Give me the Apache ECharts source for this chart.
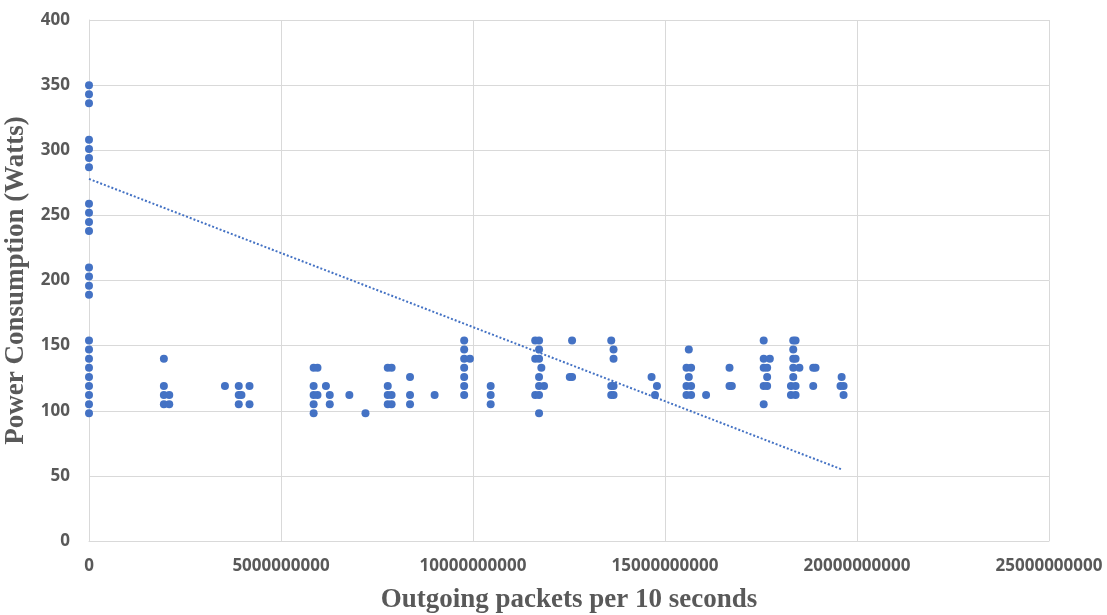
<!DOCTYPE html>
<html>
<head>
<meta charset="utf-8">
<title>Power vs outgoing packets</title>
<script src="https://cdn.jsdelivr.net/npm/echarts@6/dist/echarts.min.js"></script>
<style>
  html, body {margin: 0; padding: 0; background: #fff;}
  #chart {width: 1107px; height: 615px;}
</style>
</head>
<body>
<div id="chart"></div>
<script>
// readings: outgoing packets per 10 s and the power drawn at that point
const packets = [
  0, 0, 0, 0, 0, 0, 0, 0, 0, 0, 0, 0, 0, 0, 0, 0, 0, 0, 0, 0, 0, 0, 0, 0,
  1.95e9, 1.95e9, 1.95e9, 1.95e9, 2.09e9, 2.09e9,
  3.54e9, 3.90e9, 3.90e9, 3.90e9, 3.97e9, 4.18e9, 4.18e9,
  5.85e9, 5.85e9, 5.85e9, 5.85e9, 5.85e9, 5.95e9, 5.95e9,
  6.17e9, 6.27e9, 6.27e9, 6.78e9, 7.20e9,
  7.78e9, 7.78e9, 7.78e9, 7.78e9, 7.88e9, 7.88e9, 7.88e9,
  8.36e9, 8.36e9, 8.36e9, 9.00e9,
  9.77e9, 9.77e9, 9.77e9, 9.77e9, 9.77e9, 9.77e9, 9.77e9, 9.92e9,
  10.46e9, 10.46e9, 10.46e9,
  11.62e9, 11.62e9, 11.62e9,
  11.72e9, 11.72e9, 11.72e9, 11.72e9, 11.72e9, 11.72e9, 11.72e9,
  11.78e9, 11.85e9,
  12.52e9, 12.58e9, 12.58e9,
  13.60e9, 13.60e9, 13.60e9, 13.66e9, 13.66e9, 13.66e9, 13.66e9,
  14.65e9, 14.74e9, 14.79e9,
  15.56e9, 15.56e9, 15.56e9, 15.62e9, 15.62e9, 15.68e9, 15.68e9, 15.68e9,
  16.07e9, 16.68e9, 16.68e9, 16.74e9,
  17.57e9, 17.57e9, 17.57e9, 17.57e9, 17.57e9, 17.66e9, 17.66e9, 17.66e9, 17.73e9,
  18.28e9, 18.28e9, 18.34e9, 18.34e9, 18.34e9, 18.34e9, 18.34e9,
  18.40e9, 18.40e9, 18.40e9, 18.40e9, 18.50e9,
  18.86e9, 18.86e9, 18.92e9,
  19.57e9, 19.60e9, 19.65e9, 19.65e9
];
const watts = [
  98, 105, 112, 119, 126, 133, 140, 147, 154, 189, 196, 203, 210,
  238, 245, 252, 259, 287, 294, 301, 308, 336, 343, 350,
  140, 119, 112, 105, 112, 105,
  119, 119, 112, 105, 112, 119, 105,
  133, 119, 112, 105, 98, 133, 112,
  119, 112, 105, 112, 98,
  133, 119, 112, 105, 133, 112, 105,
  126, 112, 105, 112,
  154, 147, 140, 133, 126, 119, 112, 140,
  119, 112, 105,
  154, 140, 112,
  154, 147, 140, 126, 119, 112, 98,
  133, 119,
  126, 154, 126,
  154, 119, 112, 147, 140, 119, 112,
  126, 112, 119,
  133, 119, 112, 147, 126, 133, 119, 112,
  112, 133, 119, 119,
  154, 140, 133, 119, 105, 126, 133, 119, 140,
  119, 112, 154, 147, 140, 133, 126,
  154, 140, 119, 112, 133,
  133, 119, 133,
  119, 126, 119, 112
];

// linear trend line as drawn on the picture (start and end)
const trendPackets = [0, 1.96e10];
const trendWatts = [278, 55];

const xTicks = [0, 5e9, 1e10, 1.5e10, 2e10, 2.5e10];
const yTicks = [0, 50, 100, 150, 200, 250, 300, 350, 400];

const blue = '#4472C4';
const grey = '#595959';
const tickFont = {color: grey, fontFamily: 'Noto Sans', fontWeight: 'bold', fontSize: 17};
const titleFont = {color: grey, fontFamily: 'Liberation Serif', fontWeight: 'bold', fontSize: 27};

const points = packets.map((p, i) => [p, watts[i]]);
const trend = trendPackets.map((p, i) => [p, trendWatts[i]]);

const chart = echarts.init(document.getElementById('chart'));

chart.setOption({
  animation: false,
  grid: {left: 89, right: 58, top: 20, bottom: 74, outerBoundsMode: 'none'},
  xAxis: {
    type: 'value',
    min: xTicks[0],
    max: xTicks[xTicks.length - 1],
    interval: xTicks[1] - xTicks[0],
    name: 'Outgoing packets per 10 seconds',
    nameLocation: 'middle',
    nameGap: 46,
    nameTextStyle: titleFont,
    axisLine: {lineStyle: {color: '#d9d9d9', width: 1}},
    axisTick: {show: false},
    splitLine: {lineStyle: {color: '#d9d9d9', width: 1}},
    axisLabel: Object.assign({margin: 17, formatter: v => String(v)}, tickFont)
  },
  yAxis: {
    type: 'value',
    min: yTicks[0],
    max: yTicks[yTicks.length - 1],
    interval: yTicks[1] - yTicks[0],
    name: 'Power Consumption (Watts)',
    nameLocation: 'middle',
    nameGap: 47,
    nameTextStyle: titleFont,
    axisLine: {show: true, lineStyle: {color: '#d9d9d9', width: 1}},
    axisTick: {show: false},
    splitLine: {lineStyle: {color: '#d9d9d9', width: 1}},
    axisLabel: Object.assign({margin: 19}, tickFont)
  },
  series: [
    {
      type: 'scatter',
      data: points,
      symbolSize: 8,
      itemStyle: {color: blue, opacity: 1}
    },
    {
      type: 'line',
      data: trend,
      symbol: 'none',
      silent: true,
      lineStyle: {color: blue, width: 2, type: [2, 2]}
    }
  ]
});
</script>
</body>
</html>
